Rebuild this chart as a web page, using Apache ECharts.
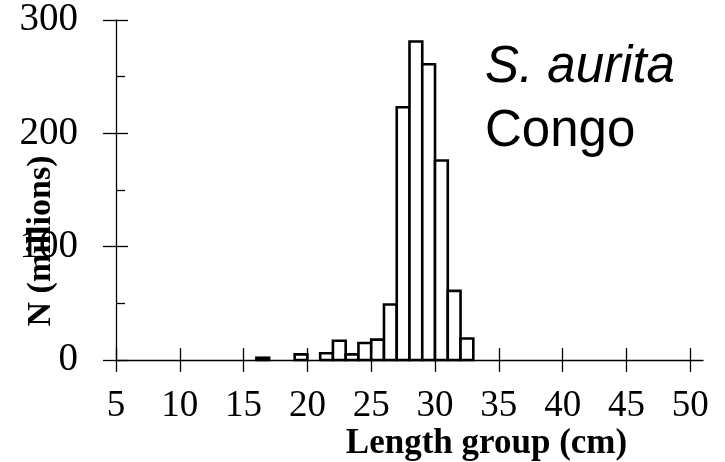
<!DOCTYPE html>
<html lang="en">
<head>
    <meta charset="UTF-8">
    <title>S. aurita Congo</title>
    <script type="text/javascript" src="https://cdn.jsdelivr.net/npm/echarts@6/dist/echarts.min.js"></script>
    <style>
        html, body { margin: 0; padding: 0; background: #fff; }
    </style>
</head>
<body>
    <div id="main" style="width: 725px; height: 462px"></div>
    <script type="text/javascript">
        // length group (lower edge, cm) and abundance in millions
        var lengthGroups = [16, 19, 21, 22, 23, 24, 25, 26, 27, 28, 29, 30, 31, 32];
        var abundance = [2, 5, 6, 17, 5, 15, 18, 49, 223, 281, 261, 176, 61, 19];

        var xTicks = [5, 10, 15, 20, 25, 30, 35, 40, 45, 50];

        var serif = 'Liberation Serif';

        var data = lengthGroups.map(function (l, i) { return [l, abundance[i]]; });

        var myChart = echarts.init(document.getElementById('main'));

        myChart.setOption({
            animation: false,
            grid: { left: 116, right: 22, top: 20, bottom: 102, outerBoundsMode: 'none', containLabel: false },
            xAxis: [{
                type: 'value',
                min: 5,
                max: 51,
                interval: 5,
                name: 'Length group (cm)',
                nameLocation: 'middle',
                nameGap: 66,
                nameMoveOverlap: false,
                nameTextStyle: {
                    fontFamily: serif,
                    fontWeight: 'bold',
                    fontSize: 35,
                    color: '#000',
                    padding: [0, 0, 0, 154]
                },
                axisLine: { lineStyle: { color: '#000', width: 1.3 } },
                axisTick: { length: 12, customValues: xTicks, lineStyle: { color: '#000', width: 1.3 } },
                axisLabel: {
                    customValues: xTicks,
                    margin: 28,
                    fontFamily: serif,
                    fontSize: 37,
                    color: '#000'
                },
                splitLine: { show: false }
            }, {
                type: 'value',
                min: 5,
                max: 51,
                interval: 5,
                position: 'bottom',
                axisLine: { show: false },
                axisTick: { inside: true, length: 12, customValues: xTicks, lineStyle: { color: '#000', width: 1.3 } },
                axisLabel: { show: false },
                splitLine: { show: false }
            }],
            yAxis: [{
                type: 'value',
                min: 0,
                max: 300,
                interval: 100,
                name: 'N (millions)',
                nameLocation: 'middle',
                nameRotate: 90,
                nameGap: 58,
                nameMoveOverlap: false,
                nameTextStyle: {
                    fontFamily: serif,
                    fontWeight: 'bold',
                    fontSize: 34,
                    color: '#000',
                    padding: [0, 102, 0, 0]
                },
                axisLine: { lineStyle: { color: '#000', width: 1.3 } },
                axisTick: { length: 13, lineStyle: { color: '#000', width: 1.3 } },
                axisLabel: {
                    margin: 38,
                    fontFamily: serif,
                    fontSize: 39,
                    color: '#000'
                },
                splitLine: { show: false }
            }, {
                type: 'value',
                min: 0,
                max: 300,
                interval: 100,
                position: 'left',
                axisLine: { show: false },
                axisTick: { inside: true, length: 12, lineStyle: { color: '#000', width: 1.3 } },
                minorTick: { show: true, splitNumber: 2, length: 9, lineStyle: { color: '#000', width: 1.3 } },
                axisLabel: { show: false },
                splitLine: { show: false }
            }],
            graphic: [{
                type: 'text',
                left: 485,
                top: 42,
                style: {
                    text: 'S. aurita',
                    font: 'italic 51px "Liberation Sans"',
                    fill: '#000'
                }
            }, {
                type: 'text',
                left: 485,
                top: 106,
                style: {
                    text: 'Congo',
                    font: '51px "Liberation Sans"',
                    fill: '#000'
                }
            }],
            series: [{
                type: 'custom',
                xAxisIndex: 0,
                yAxisIndex: 0,
                data: data,
                renderItem: function (params, api) {
                    var p0 = api.coord([api.value(0), 0]);
                    var p1 = api.coord([api.value(0) + 1, api.value(1)]);
                    return {
                        type: 'rect',
                        shape: { x: p0[0], y: p1[1], width: p1[0] - p0[0], height: p0[1] - p1[1] },
                        style: { fill: '#fff', stroke: '#000', lineWidth: 2.6 }
                    };
                }
            }]
        });
    </script>
</body>
</html>
